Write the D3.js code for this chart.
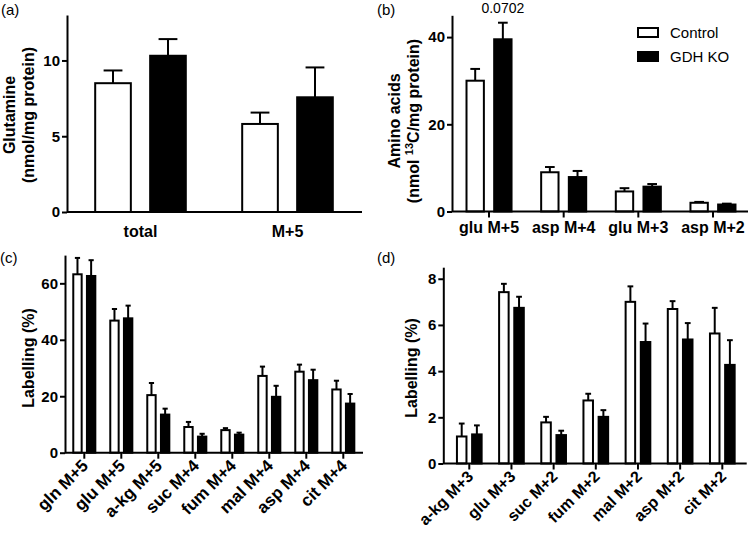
<!DOCTYPE html>
<html>
<head>
<meta charset="utf-8">
<script src="https://cdn.jsdelivr.net/npm/d3@7"></script>
<style>
  body { margin: 0; background: #fff; }
  svg { display: block; font-family: "Liberation Sans", Arial, sans-serif; }
</style>
</head>
<body>
<svg id="chart" width="750" height="534"></svg>
<script>
// panel (a) glutamine
const catsA = ["total", "M+5"];
const ctrlA = [8.5, 5.81];
const ctrlErrA = [0.84, 0.75];
const koA = [10.31, 7.57];
const koErrA = [1.1, 1.97];

// panel (b) amino acids
const catsB = ["glu M+5", "asp M+4", "glu M+3", "asp M+2"];
const ctrlB = [30.0, 9.0, 4.6, 2.0];
const ctrlErrB = [2.7, 1.2, 0.75, 0.2];
const koB = [39.5, 7.9, 5.7, 1.6];
const koErrB = [3.8, 1.4, 0.6, 0.2];

// panel (c) labelling
const catsC = ["gln M+5", "glu M+5", "a-kg M+5", "suc M+4", "fum M+4", "mal M+4", "asp M+4", "cit M+4"];
const ctrlC = [63.2, 46.8, 20.4, 9.1, 8.0, 27.2, 28.7, 22.4];
const ctrlErrC = [5.8, 4.1, 4.3, 1.8, 0.7, 3.3, 2.5, 3.1];
const koC = [62.6, 47.6, 13.5, 5.7, 6.4, 19.8, 25.7, 17.4];
const koErrC = [5.6, 4.5, 2.1, 1.0, 0.7, 3.9, 3.7, 3.4];

// panel (d) labelling
const catsD = ["a-kg M+3", "glu M+3", "suc M+2", "fum M+2", "mal M+2", "asp M+2", "cit M+2"];
const ctrlD = [1.17, 7.42, 1.78, 2.73, 7.0, 6.69, 5.63];
const ctrlErrD = [0.56, 0.36, 0.24, 0.29, 0.67, 0.34, 1.11];
const koD = [1.26, 6.74, 1.23, 2.02, 5.26, 5.37, 4.27];
const koErrD = [0.39, 0.48, 0.19, 0.29, 0.8, 0.71, 1.07];

const series = ["Control", "GDH KO"];
const fills = {"Control": "#fff", "GDH KO": "#000"};

const svg = d3.select("#chart");

function panel(p) {
  const g = svg.append("g");

  const x = d3.scaleBand()
    .domain(p.cats)
    .range(p.xRange)
    .paddingInner(p.pad)
    .paddingOuter(p.pad / 2);
  const xs = d3.scaleBand()
    .domain(series)
    .range([0, x.bandwidth()])
    .paddingInner(p.innerPad);
  const y = d3.scaleLinear().domain(p.yDomain).range(p.yRange);

  const rows = [];
  p.cats.forEach((c, i) => {
    rows.push({cat: c, s: "Control", v: p.ctrl[i], e: p.ctrlErr[i]});
    rows.push({cat: c, s: "GDH KO", v: p.ko[i], e: p.koErr[i]});
  });

  // error bars, upward only
  const eb = g.selectAll(".err").data(rows).enter().append("g");
  eb.append("line")
    .attr("x1", d => x(d.cat) + xs(d.s) + xs.bandwidth() / 2)
    .attr("x2", d => x(d.cat) + xs(d.s) + xs.bandwidth() / 2)
    .attr("y1", d => y(d.v))
    .attr("y2", d => y(d.v + d.e))
    .attr("stroke", "#000").attr("stroke-width", 2);
  eb.append("line")
    .attr("x1", d => x(d.cat) + xs(d.s) + xs.bandwidth() / 4)
    .attr("x2", d => x(d.cat) + xs(d.s) + xs.bandwidth() * 3 / 4)
    .attr("y1", d => y(d.v + d.e))
    .attr("y2", d => y(d.v + d.e))
    .attr("stroke", "#000").attr("stroke-width", 2);

  g.selectAll(".bar").data(rows).enter().append("rect")
    .attr("x", d => x(d.cat) + xs(d.s) + 1)
    .attr("width", xs.bandwidth() - 2)
    .attr("y", d => y(d.v))
    .attr("height", d => y(0) - y(d.v))
    .attr("fill", d => fills[d.s])
    .attr("stroke", "#000").attr("stroke-width", 2);

  // y axis
  const ya = g.append("g")
    .attr("transform", `translate(${p.axisX[0]},0)`)
    .call(d3.axisLeft(y).tickValues(p.yTicks).tickSize(5).tickPadding(2).tickSizeOuter(0));
  ya.select(".domain").attr("stroke-width", 2);
  ya.selectAll(".tick line").attr("stroke-width", 2);
  ya.selectAll(".tick text")
    .attr("font-size", 15).attr("font-weight", "bold")
    .attr("font-family", "Liberation Sans, Arial, sans-serif").attr("fill", "#000");

  // x axis
  const xa = g.append("g")
    .attr("transform", `translate(0,${y(0)})`)
    .call(d3.axisBottom(x).tickSize(p.xTicks ? 6 : 0).tickSizeOuter(0).tickPadding(p.xPad));
  xa.select(".domain").attr("d", `M${p.axisX[0]},0H${p.axisX[1]}`).attr("stroke-width", 2);
  xa.selectAll(".tick line").attr("stroke-width", 2);
  const xt = xa.selectAll(".tick text")
    .attr("font-size", p.xFont).attr("font-weight", "bold")
    .attr("font-family", "Liberation Sans, Arial, sans-serif").attr("fill", "#000");
  if (p.rotate) {
    xt.attr("text-anchor", "end")
      .attr("dy", null).attr("y", null)
      .attr("transform", "translate(5,14) rotate(-45)");
  }

  // y title
  p.title.forEach((t, i) => {
    const tx = g.append("text")
      .attr("transform", `translate(${p.titleX[i]},${p.titleY}) rotate(-90)`)
      .attr("text-anchor", "middle")
      .attr("font-size", 16).attr("font-weight", "bold");
    if (Array.isArray(t)) {
      tx.append("tspan").text(t[0]);
      tx.append("tspan").attr("dy", -6).attr("font-size", 11).text(t[1]);
      tx.append("tspan").attr("dy", 6).text(t[2]);
    } else {
      tx.text(t);
    }
  });

  g.append("text")
    .attr("x", p.tag[0]).attr("y", p.tag[1])
    .attr("font-size", 15).text(p.tagText);

  return {g, x, xs, y};
}

panel({
  cats: catsA, ctrl: ctrlA, ctrlErr: ctrlErrA, ko: koA, koErr: koErrA,
  xRange: [67, 361], pad: 0.37, innerPad: 0.315,
  yDomain: [0, 13], yRange: [212, 15], yTicks: [0, 5, 10],
  axisX: [67, 362], xTicks: false, xPad: 14, rotate: false, xFont: 16,
  title: ["Glutamine", "(nmol/mg protein)"], titleX: [15, 34], titleY: 115,
  tag: [1, 15], tagText: "(a)"
});

const pb = panel({
  cats: catsB, ctrl: ctrlB, ctrlErr: ctrlErrB, ko: koB, koErr: koErrB,
  xRange: [451.7, 750.3], pad: 0.37, innerPad: 0.3,
  yDomain: [0, 45], yRange: [211.5, 15.3], yTicks: [0, 20, 40],
  axisX: [452, 748], xTicks: true, xPad: 4, rotate: false, xFont: 16,
  title: ["Amino acids", ["(nmol ", "13", "C/mg protein)"]], titleX: [400, 419], titleY: 121,
  tag: [377, 15], tagText: "(b)"
});

// p-value over glu M+5
pb.g.append("text")
  .attr("x", pb.x("glu M+5") + pb.xs("GDH KO") + pb.xs.bandwidth() / 2)
  .attr("y", 13)
  .attr("text-anchor", "middle")
  .attr("font-size", 14)
  .text("0.0702");

// legend
const leg = pb.g.append("g").attr("transform", "translate(637,27)");
series.forEach((s, i) => {
  leg.append("rect")
    .attr("x", 1).attr("y", i * 24 + 1)
    .attr("width", 20).attr("height", 9)
    .attr("fill", fills[s]).attr("stroke", "#000").attr("stroke-width", 2);
  leg.append("text")
    .attr("x", 33).attr("y", i * 24 + 11)
    .attr("font-size", 15).text(s);
});

panel({
  cats: catsC, ctrl: ctrlC, ctrlErr: ctrlErrC, ko: koC, koErr: koErrC,
  xRange: [65.8, 361.8], pad: 0.35, innerPad: 0.24,
  yDomain: [0, 70], yRange: [452.7, 255.1], yTicks: [0, 20, 40, 60],
  axisX: [65, 363], xTicks: true, xPad: 4, rotate: true, xFont: 17,
  title: ["Labelling (%)"], titleX: [34], titleY: 358,
  tag: [0, 263], tagText: "(c)"
});

panel({
  cats: catsD, ctrl: ctrlD, ctrlErr: ctrlErrD, ko: koD, koErr: koErrD,
  xRange: [448.2, 743.4], pad: 0.367, innerPad: 0.24,
  yDomain: [0, 8.5], yRange: [463.5, 267.2], yTicks: [0, 2, 4, 6, 8],
  axisX: [443.3, 746.7], xTicks: true, xPad: 4, rotate: true, xFont: 16,
  title: ["Labelling (%)"], titleX: [417], titleY: 368,
  tag: [377, 263], tagText: "(d)"
});
</script>
</body>
</html>
